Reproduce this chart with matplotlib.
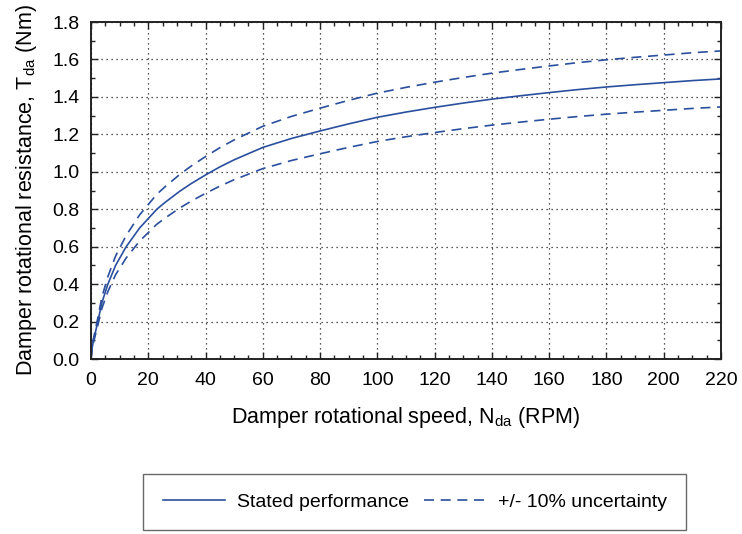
import matplotlib
matplotlib.use("Agg")
import matplotlib.pyplot as plt
from matplotlib.ticker import MultipleLocator
import numpy as np

plt.rcParams['font.family'] = ['Liberation Sans', 'DejaVu Sans']
plt.rcParams['mathtext.fontset'] = 'custom'
plt.rcParams['mathtext.rm'] = 'Liberation Sans'
plt.rcParams['mathtext.it'] = 'Liberation Sans'

# Damper speed (RPM) and stated rotational resistance (Nm)
speed_rpm = [0, 0.3, 0.9, 2.4, 3.8, 5.9, 8.6, 12.3, 17, 20, 23, 26, 31, 35,
             40, 45, 50, 60, 70, 80, 90, 100, 110, 120, 130, 140, 150, 160,
             170, 180, 190, 200, 210, 220]
torque_nm = [0.0, 0.05, 0.10, 0.20, 0.30, 0.40, 0.50, 0.60, 0.70, 0.75,
             0.80, 0.838, 0.896, 0.937, 0.983, 1.026, 1.064, 1.130, 1.178,
             1.218, 1.256, 1.291, 1.319, 1.344, 1.367, 1.388, 1.406, 1.423,
             1.439, 1.453, 1.465, 1.476, 1.487, 1.496]
uncertainty = 0.10

x_ticks = [0, 20, 40, 60, 80, 100, 120, 140, 160, 180, 200, 220]
y_ticks = [0.0, 0.2, 0.4, 0.6, 0.8, 1.0, 1.2, 1.4, 1.6, 1.8]

color = '#2a4f9e'

fig = plt.figure(figsize=(7.42, 5.34), dpi=100)
ax = fig.add_axes([0.1226, 0.3277, 0.9717 - 0.1226, 0.9588 - 0.3277])

t = np.array(torque_nm)
l1, = ax.plot(speed_rpm, t, color=color, lw=1.2, label='Stated performance')
l2, = ax.plot(speed_rpm, t * (1 + uncertainty), color=color, lw=1.2,
              dashes=(6, 4), label='+/- 10% uncertainty')
ax.plot(speed_rpm, t * (1 - uncertainty), color=color, lw=1.2, dashes=(6, 4))

ax.set_xlim(0, 220)
ax.set_ylim(0, 1.8)
ax.set_xticks(x_ticks)
ax.set_yticks(y_ticks)
ax.set_yticklabels([f'{v:.1f}' for v in y_ticks])
ax.xaxis.set_minor_locator(MultipleLocator(5))
ax.yaxis.set_minor_locator(MultipleLocator(0.1))
ax.tick_params(which='both', direction='in', top=True, right=True,
               labelsize=14, color='#222222')
ax.tick_params(axis='x', which='major', length=5, width=1, pad=9)
ax.tick_params(axis='y', which='major', length=5, width=1, pad=8)
ax.tick_params(which='minor', length=3, width=1)
ax.grid(True, which='major', color='#222222', linestyle=(0, (1, 3)), lw=0.9)
for s in ax.spines.values():
    s.set_linewidth(1.4)
    s.set_color('#222222')

ax.set_xlabel('Damper rotational speed, N$_{\\mathrm{da}}$ (RPM)', fontsize=15.5, labelpad=12)
ax.set_ylabel('Damper rotational resistance, T$_{\\mathrm{da}}$ (Nm)', fontsize=15.5, labelpad=10)

leg = fig.legend(handles=[l1, l2], loc='center', bbox_to_anchor=(0.559, 0.060),
                 ncol=2, fontsize=14, frameon=True, fancybox=False,
                 edgecolor='#444444', borderpad=1.0, handlelength=3.2,
                 columnspacing=0.8, handletextpad=0.6, borderaxespad=0.3)
leg.get_frame().set_linewidth(1.0)

fig.savefig('out.png', dpi=100)
